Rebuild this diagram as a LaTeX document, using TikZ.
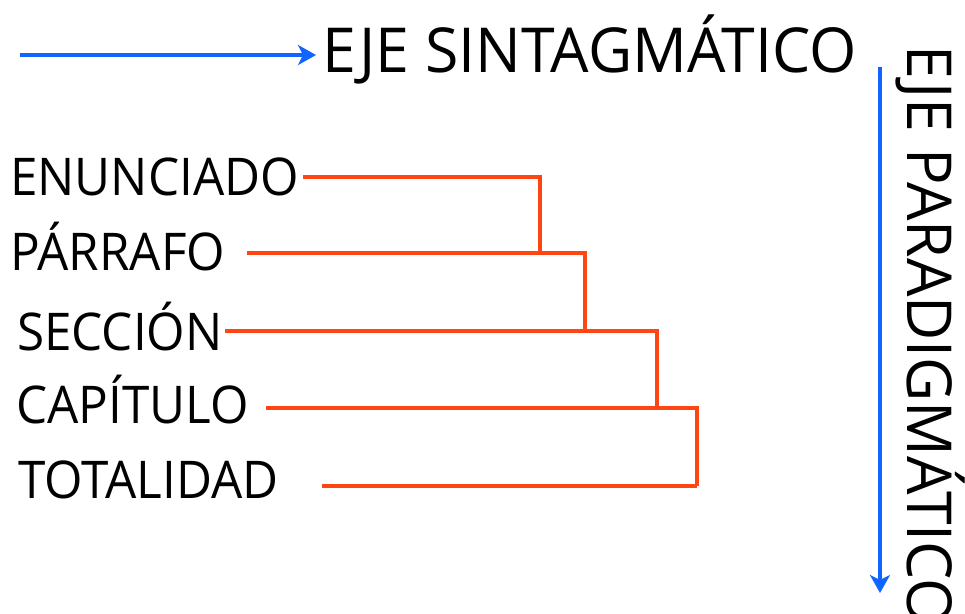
\documentclass[tikz,border=0pt]{standalone}
\usepackage{fontspec}
\setmainfont{Open Sans}[FakeStretch=0.95]
\newfontfamily\axisfont{Open Sans}[FakeStretch=0.98]
\usetikzlibrary{arrows.meta}
\definecolor{axisblue}{RGB}{16,100,255}
\definecolor{treeorange}{RGB}{255,69,20}
\begin{document}
\begin{tikzpicture}[x=1pt,y=-1pt,
  lbl/.style={anchor=base west, inner sep=0pt, font=\fontsize{52}{52}\selectfont},
  axislabel/.style={anchor=base west, inner sep=0pt, font=\axisfont\fontsize{62}{62}\selectfont},
  axis/.style={draw=axisblue, line width=4pt, -{Stealth[length=18pt,width=20pt,inset=5pt]}},
  link/.style={draw=treeorange, line width=4pt, line join=miter, line cap=butt}]
\useasboundingbox (0,0) rectangle (965,613);
\clip (0,0) rectangle (965,613);
% axes
\node[axislabel] (synt) at (322,72) {EJE SINTAGMÁTICO};
\node[axislabel, rotate=-90] (para) at (907,45) {EJE PARADIGMÁTICO};
\coordinate (hstart) at (20,55);
\coordinate (vstart) at (880,67);
\coordinate (vend) at (880,593);
\draw[axis] (hstart) -- ([xshift=-6pt]hstart -| synt.west);
\draw[axis] (vstart) -- (vend);
% labels
\node[lbl] (enun) at (10,195) {ENUNCIADO};
\node[lbl] (parr) at (10,270) {PÁRRAFO};
\node[lbl] (secc) at (17,350) {SECCIÓN};
\node[lbl] (capi) at (16,423) {CAPÍTULO};
\node[lbl] (tota) at (18,498) {TOTALIDAD};
% connector points
\coordinate (s1) at (303,177);
\coordinate (j1) at (540,177);
\coordinate (s2) at (247,253);
\coordinate (j2) at (585,253);
\coordinate (s3) at (225,331);
\coordinate (j3) at (657,331);
\coordinate (s4) at (266,408);
\coordinate (j4) at (697,408);
\coordinate (s5) at (322,486);
\coordinate (j5) at (697,486);
\draw[link] (s1) -- (j1) -- (j1 |- s2);
\draw[link] (s2) -- (j2) -- (j2 |- s3);
\draw[link] (s3) -- (j3) -- (j3 |- s4);
\draw[link] (s4) -- (j4) -- (j5);
\draw[link] (s5) -- (j5);
\end{tikzpicture}
\end{document}
